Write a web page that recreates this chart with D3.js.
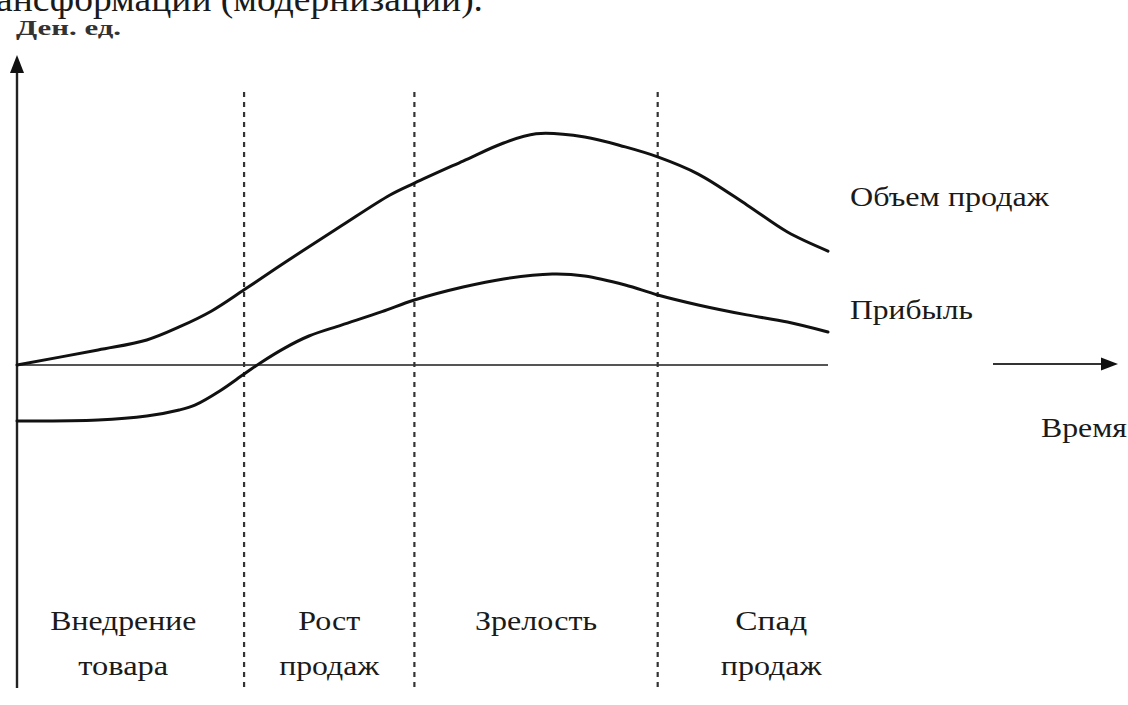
<!DOCTYPE html>
<html lang="ru">
<head>
<meta charset="utf-8">
<script src="https://cdn.jsdelivr.net/npm/d3@7"></script>
<style>
  html, body { margin: 0; padding: 0; background: #fff; }
  svg { display: block; }
  text { font-family: "Liberation Serif", "Times New Roman", serif; fill: #1a1a1a; }
</style>
</head>
<body>
<svg id="chart" width="1128" height="705"></svg>
<script>
// Product life cycle: time in relative units (0..100), money in relative units
const salesTime = [0, 10, 16, 20, 24, 28, 32, 35, 40, 46, 49, 55, 60, 64, 70, 75, 79, 84, 90, 95, 100];
const salesVolume = [0, 0.65, 1.08, 1.64, 2.33, 3.24, 4.18, 4.87, 6.0, 7.33, 7.84, 8.79, 9.57, 9.97, 9.83, 9.4, 8.97, 8.23, 6.9, 5.73, 4.91];
const profitTime = [0, 10, 16, 20, 22, 25, 28, 30, 33, 36, 40, 45, 49, 55, 60, 66, 70, 75, 79, 84, 90, 95, 100];
const profit = [-2.41, -2.37, -2.2, -1.94, -1.72, -1.12, -0.39, 0.09, 0.73, 1.25, 1.72, 2.3, 2.8, 3.36, 3.71, 3.92, 3.84, 3.45, 3.02, 2.59, 2.16, 1.85, 1.42];
const phaseBounds = [28, 49, 79];
const phaseLabels = [["Внедрение", "товара"], ["Рост", "продаж"], ["Зрелость"], ["Спад", "продаж"]];
const phaseCenters = [13.1, 38.5, 64, 93];
const seriesNames = ["Объем продаж", "Прибыль"];
const axisLabels = { y: "Ден. ед.", x: "Время" };
const headerText = "ансформации (модернизации).";

const svg = d3.select("#chart");
const x = d3.scaleLinear().domain([0, 100]).range([17, 828]);
const y = d3.scaleLinear().domain([0, 10]).range([365, 133]);

// header line, partly cut by the top edge
svg.append("text").attr("x", -4).attr("y", 11)
  .attr("font-size", 36).attr("textLength", 487).attr("lengthAdjust", "spacingAndGlyphs")
  .text(headerText);

// y axis label
svg.append("text").attr("x", 16).attr("y", 35)
  .attr("font-size", 20).attr("font-weight", "bold")
  .attr("textLength", 105).attr("lengthAdjust", "spacingAndGlyphs")
  .style("fill", "#333")
  .text(axisLabels.y);

// vertical axis with arrow
const x0 = x(0);
svg.append("line").attr("x1", x0).attr("x2", x0).attr("y1", 66).attr("y2", 688)
  .attr("stroke", "#222").attr("stroke-width", 2.4);
svg.append("path")
  .attr("d", `M${x0},55 L${x0 - 7},73 L${x0 + 7},73 Z`)
  .attr("fill", "#111");

// zero line
svg.append("line").attr("x1", x0).attr("x2", x(100)).attr("y1", y(0)).attr("y2", y(0))
  .attr("stroke", "#555").attr("stroke-width", 2.2);

// time arrow on the right
const ay = y(0) - 1;
svg.append("line").attr("x1", 993).attr("x2", 1106).attr("y1", ay).attr("y2", ay)
  .attr("stroke", "#333").attr("stroke-width", 2);
svg.append("path")
  .attr("d", `M1118,${ay} L1101,${ay - 6.5} L1101,${ay + 6.5} Z`)
  .attr("fill", "#111");
svg.append("text").attr("x", 1041).attr("y", 437)
  .attr("font-size", 27).attr("textLength", 86).attr("lengthAdjust", "spacingAndGlyphs")
  .text(axisLabels.x);

// phase boundaries
svg.selectAll("line.phase").data(phaseBounds).join("line")
  .attr("class", "phase")
  .attr("x1", d => x(d)).attr("x2", d => x(d))
  .attr("y1", 92).attr("y2", 688)
  .attr("stroke", "#333").attr("stroke-width", 2.2)
  .attr("stroke-dasharray", "5,5");

// curves
const line = d3.line().curve(d3.curveCatmullRom.alpha(0.5));
const series = [[salesTime, salesVolume], [profitTime, profit]];
svg.selectAll("path.curve").data(series).join("path")
  .attr("class", "curve")
  .attr("d", ([ts, vals]) => line(vals.map((v, i) => [x(ts[i]), y(v)])))
  .attr("fill", "none").attr("stroke", "#111").attr("stroke-width", 3)
  .attr("stroke-linecap", "round");

// series names
const nameY = [206, 319];
const nameW = [199, 123];
svg.selectAll("text.series").data(seriesNames).join("text")
  .attr("class", "series")
  .attr("x", 850).attr("y", (d, i) => nameY[i])
  .attr("font-size", 27)
  .attr("textLength", (d, i) => nameW[i]).attr("lengthAdjust", "spacingAndGlyphs")
  .text(d => d);

// phase names
const labelW = [[146, 90], [62, 100], [122], [72, 101]];
const g = svg.append("g");
phaseLabels.forEach((lines, i) => {
  lines.forEach((t, j) => {
    g.append("text")
      .attr("x", x(phaseCenters[i])).attr("y", 630 + j * 45)
      .attr("text-anchor", "middle").attr("font-size", 28)
      .attr("textLength", labelW[i][j]).attr("lengthAdjust", "spacingAndGlyphs")
      .text(t);
  });
});
</script>
</body>
</html>
